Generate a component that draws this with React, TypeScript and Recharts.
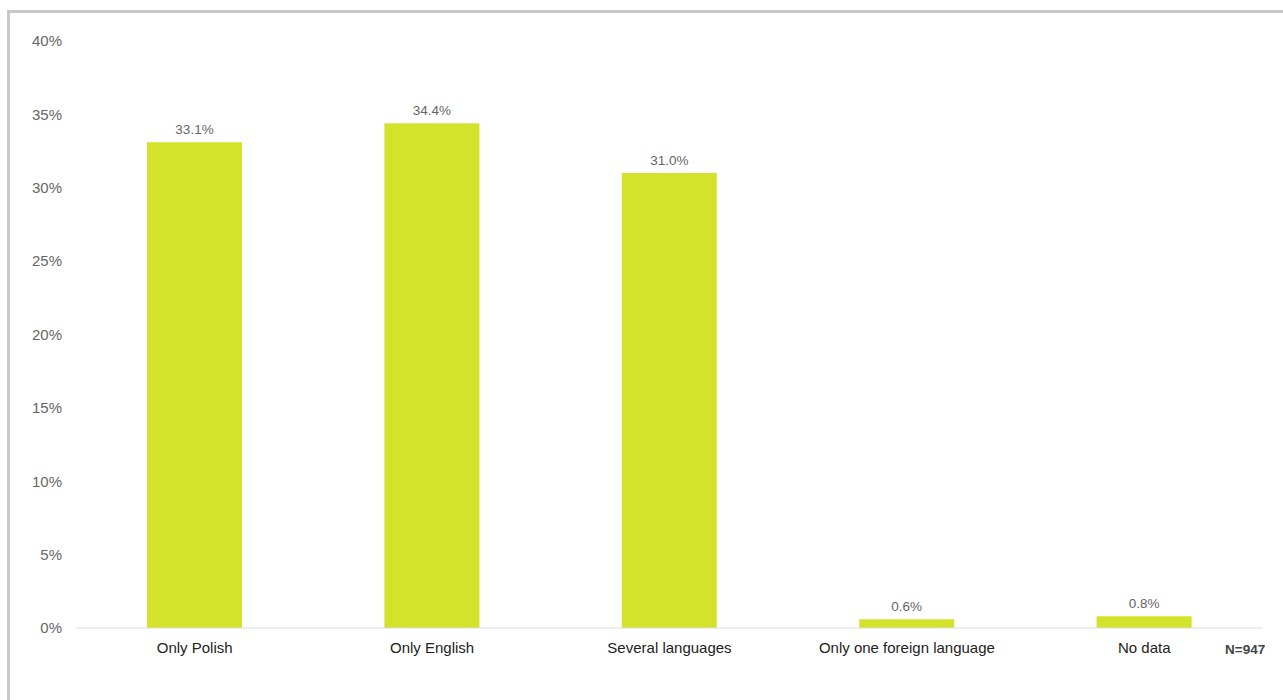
import { BarChart, Bar, XAxis, YAxis, LabelList } from 'recharts';

const categories = ['Only Polish', 'Only English', 'Several languages', 'Only one foreign language', 'No data'];
const shares = [33.1, 34.4, 31.0, 0.6, 0.8];
const yTicks = [0, 5, 10, 15, 20, 25, 30, 35, 40];
const sampleNote = 'N=947';

const data = categories.map((name, i) => ({ name, value: shares[i] }));

const FONT = '"Liberation Sans", Arial, sans-serif';

export default function App() {
  return (
    <div style={{ position: 'absolute', left: 0, top: 0, width: 1283, height: 700, overflow: 'hidden', fontFamily: FONT }}>
      {/* grey frame, its right and bottom edges fall outside the page */}
      <div
        style={{
          position: 'absolute',
          left: 7,
          top: 10,
          width: 1300,
          height: 720,
          border: '3px solid #c8c8c8',
          boxSizing: 'border-box',
        }}
      />
      <div style={{ position: 'absolute', left: 0, top: 0 }}>
        <BarChart
          width={1283}
          height={700}
          data={data}
          margin={{ top: 41, right: 20, left: 16, bottom: 42 }}
          barCategoryGap="30%"
        >
          <XAxis
            dataKey="name"
            axisLine={{ stroke: '#dcdcdc' }}
            tickLine={false}
            tickMargin={8}
            tick={{ fill: '#222', fontSize: 15, fontFamily: FONT }}
            interval={0}
          />
          <YAxis
            width={60}
            domain={[0, 40]}
            ticks={yTicks}
            axisLine={false}
            tickLine={false}
            tickMargin={8}
            tickFormatter={(v) => `${v}%`}
            tick={{ fill: '#666', fontSize: 15, fontFamily: FONT }}
          />
          <Bar dataKey="value" fill="#d3e32b" barSize={95} isAnimationActive={false}>
            <LabelList
              dataKey="value"
              position="top"
              offset={8}
              formatter={(v: number) => `${v.toFixed(1)}%`}
              style={{ fill: '#666', fontSize: 13.5, fontFamily: FONT }}
            />
          </Bar>
        </BarChart>
      </div>
      <div
        style={{
          position: 'absolute',
          left: 1225,
          top: 642,
          fontSize: 13.5,
          fontWeight: 'bold',
          color: '#444',
        }}
      >
        {sampleNote}
      </div>
    </div>
  );
}
